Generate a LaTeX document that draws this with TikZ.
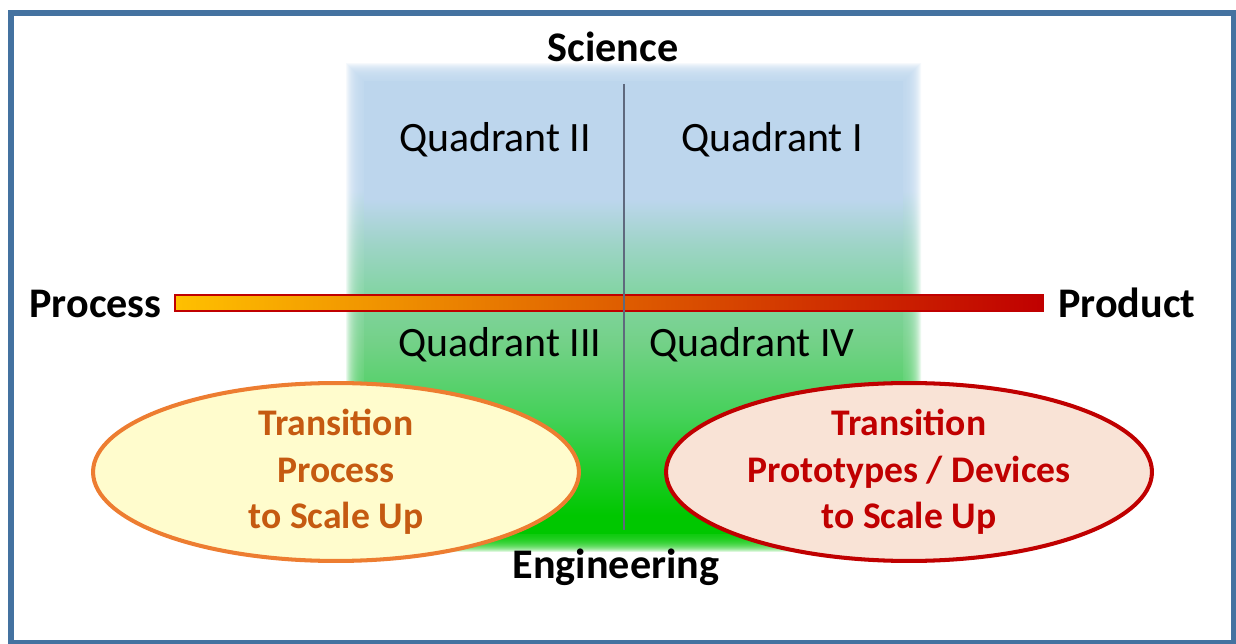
\documentclass[tikz,border=0pt]{standalone}
\usepackage{fontspec}
\setmainfont{Carlito}
\definecolor{frameblue}{RGB}{68, 114, 160}
\definecolor{baryellow}{RGB}{255, 192, 0}
\definecolor{barorange}{RGB}{233, 130, 0}
\definecolor{barred}{RGB}{192, 0, 0}
\definecolor{axisgray}{RGB}{95, 105, 125}
\definecolor{procline}{RGB}{237, 125, 49}
\definecolor{proctext}{RGB}{197, 90, 17}
\definecolor{procfill}{RGB}{255, 252, 205}
\definecolor{prodfill}{RGB}{249, 227, 214}
\usetikzlibrary{shapes, positioning, calc}
\pgfdeclareverticalshading{quadshade}{100bp}{rgb(0bp)=(0,0.78,0); rgb(27bp)=(0,0.78,0);
  rgb(38bp)=(0.27,0.82,0.35); rgb(46bp)=(0.45,0.82,0.53); rgb(52bp)=(0.52,0.83,0.65);
  rgb(57bp)=(0.62,0.83,0.78); rgb(62bp)=(0.74,0.84,0.93); rgb(100bp)=(0.74,0.84,0.93)}

\begin{document}
\begin{tikzpicture}[x=0.02cm, y=-0.02cm,
  axislabel/.style={anchor=base, inner sep=0pt, font=\fontsize{24}{28}\selectfont\bfseries},
  quadlabel/.style={anchor=base, font=\fontsize{23.8}{28}\selectfont},
  goal/.style={ellipse, line width=2.3pt, minimum width=9.72cm, minimum height=3.44cm,
    inner sep=0pt, align=center, font=\fontsize{21.4}{26.6}\selectfont\bfseries}]
  \useasboundingbox (0,0) rectangle (1236,644);

  % Frame
  \draw[frameblue, line width=3.4pt] (11,13) rectangle (1233.5,642.5);

  % Quadrant field (soft edges)
  \coordinate (qa) at (364,82);
  \coordinate (qb) at (903,533);
  \foreach \d in {1,...,18}
    \shade[shading=quadshade, opacity=0.14] ($(qa)+(-\d,-\d)$) rectangle ($(qb)+(\d,\d)$);
  \shade[shading=quadshade] (qa) rectangle (qb);

  % Axis labels
  \node[axislabel] (sci) at (613,62) {Science};
  \node[axislabel] (eng) at (616,578) {Engineering};
  \node[axislabel, anchor=base east] (proc) at (162,318) {Process};
  \node[axislabel, anchor=base west] (prod) at (1058,318) {Product};

  % Horizontal bar
  \coordinate (barL) at (175,295);
  \coordinate (barR) at (1043,311);
  \draw[barred, line width=1.2pt, left color=baryellow, middle color=barorange, right color=barred]
    (barL) rectangle (barR);

  % Vertical axis
  \coordinate (vtop) at (624,84);
  \coordinate (vbot) at (624,530);
  \draw[axisgray, line width=0.7pt] (vtop) -- (vbot);

  % Quadrants
  \node[quadlabel] (q2) at (495,152) {Quadrant II};
  \node[quadlabel] (q1) at (772,152) {Quadrant I};
  \node[quadlabel] (q3) at (500,357) {Quadrant III};
  \node[quadlabel] (q4) at (752,357) {Quadrant IV};

  % Transitions
  \node[goal, draw=procline, fill=procfill, text=proctext] (tproc) at (336,472)
    {Transition\\Process\\to Scale Up};
  \node[goal, draw=barred, fill=prodfill, text=barred] (tprod) at (909,472)
    {Transition\\Prototypes / Devices\\to Scale Up};
\end{tikzpicture}
\end{document}
